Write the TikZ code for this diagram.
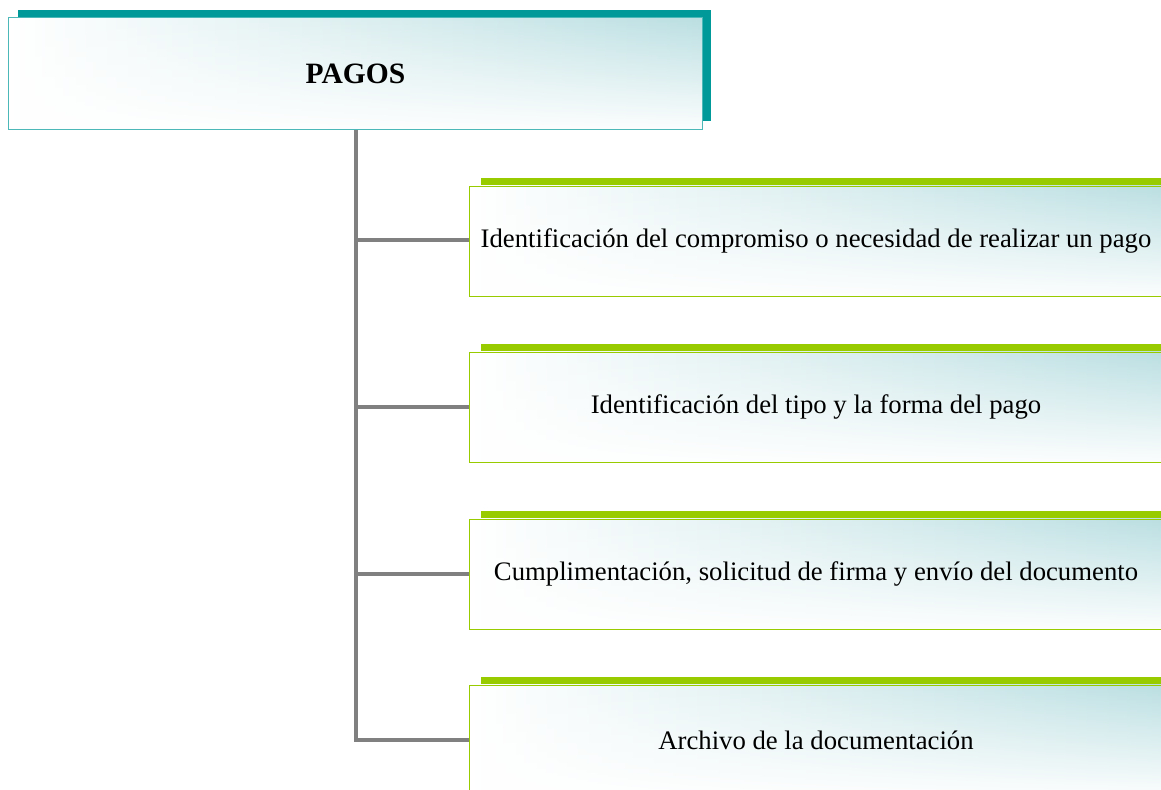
\documentclass[tikz,border=0pt]{standalone}
\usepackage{fontspec}
\setmainfont{Liberation Serif}
\usetikzlibrary{shadows,fadings}
\definecolor{tealshadow}{HTML}{009999}
\definecolor{greenbar}{HTML}{99CC00}
\definecolor{paleteal}{HTML}{BBDFE2}
\definecolor{linegray}{HTML}{808080}
\tikzfading[name=fadeup, top color=transparent!100, middle color=transparent!100, bottom color=transparent!5]
\tikzset{
	box/.style={minimum width=17.3cm, minimum height=2.75cm, inner sep=0pt,
		left color=white, right color=paleteal, line width=0.6pt,
		path picture={\fill[white, path fading=fadeup, fit fading=true]
			(path picture bounding box.south west) rectangle
			(path picture bounding box.north east);}},
	headbox/.style={box, draw=tealshadow!70, minimum width=17.33cm, minimum height=2.78cm,
		drop shadow={shadow xshift=0.22cm, shadow yshift=0.2cm, fill=tealshadow, opacity=1}},
	stepbox/.style={box, draw=greenbar,
		drop shadow={shadow xshift=0.27cm, shadow yshift=0.2cm, fill=greenbar, opacity=1}},
	conn/.style={draw=linegray, line width=3.5pt}
}
\begin{document}
\begin{tikzpicture}[x=0.025cm, y=-0.025cm, font=\fontsize{19}{23}\selectfont]
	\clip (0,0) rectangle (1161,789);
	\fill[white] (0,0) rectangle (1161,789);
	% lines behind boxes
	\coordinate (top) at (356,129);
	\coordinate (bot) at (356,740);
	\draw[conn] (top) -- (bot) -- (470,740);
	\foreach \y in {240,407,574}
		\draw[conn] (356,\y) -- (470,\y);
	% boxes
	\node[headbox] (pagos) at (355.5,73.5) {\bfseries\fontsize{21}{25}\selectfont PAGOS};
	\node[stepbox] (s1) at (816,241) {Identificación del compromiso o necesidad de realizar un pago};
	\node[stepbox] (s2) at (816,407) {Identificación del tipo y la forma del pago};
	\node[stepbox] (s3) at (816,574) {Cumplimentación, solicitud de firma y envío del documento};
	\node[stepbox] (s4) at (816,740) {Archivo de la documentación};
\end{tikzpicture}
\end{document}
